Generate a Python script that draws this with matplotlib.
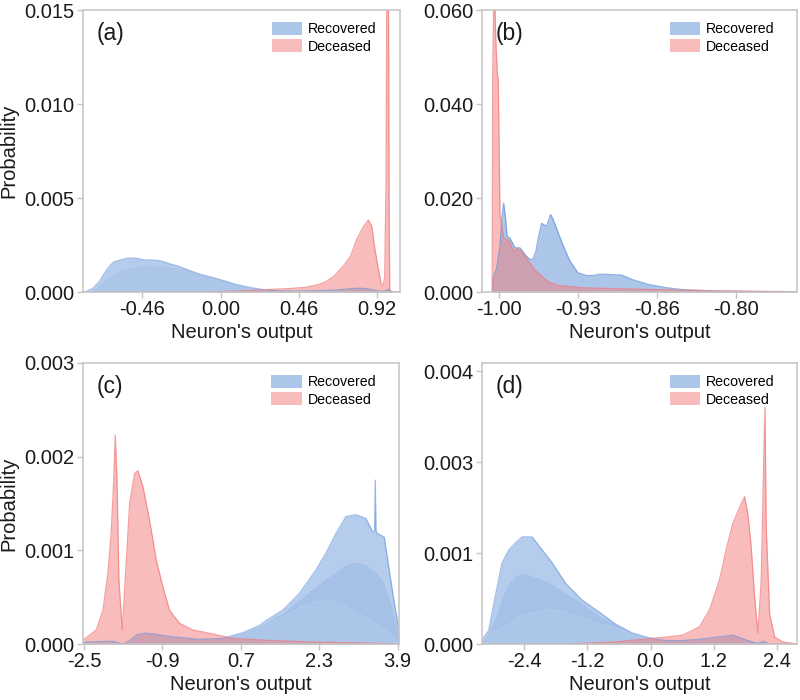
import matplotlib
matplotlib.use('Agg')
import matplotlib.pyplot as plt
from matplotlib.patches import Patch

plt.rcParams['font.family'] = ['Liberation Sans', 'DejaVu Sans']

# ---------------- Panel (a) ----------------
a_blue_x = [-0.81, -0.79, -0.75, -0.71, -0.67, -0.63, -0.59, -0.55, -0.50, -0.45, -0.40,
            -0.35, -0.30, -0.25, -0.20, -0.12, -0.05, 0.02, 0.08, 0.14, 0.20, 0.27, 0.35,
            0.45, 0.57, 0.66, 0.72, 0.77, 0.82, 0.86, 0.90, 0.94, 0.97, 0.99, 1.01, 1.056]
a_blue_top = [0, 0.00003, 0.0002, 0.0006, 0.0012, 0.0016, 0.0017, 0.0018, 0.0018, 0.0017,
              0.0017, 0.00165, 0.0015, 0.00138, 0.0012, 0.00094, 0.00078, 0.0006, 0.00043,
              0.0003, 0.0002, 0.0001, 0.00006, 0.00005, 0.00007, 0.0001, 0.00014, 0.00018,
              0.0002, 0.00018, 0.0001, 0.00003, 0.00008, 0.00014, 0, 0]
a_blue_base = [0, 0.00003, 0.00015, 0.0004, 0.0008, 0.001, 0.0012, 0.0013, 0.0014, 0.00145,
               0.00145, 0.0014, 0.00135, 0.0013, 0.0012, 0.00094, 0.00078, 0.0006, 0.00043,
               0.0003, 0.0002, 0.0001, 0.00006, 0.00005, 0.00007, 0.0001, 0.00014, 0.00018,
               0.0002, 0.00018, 0.0001, 0.00003, 0.00008, 0.00014, 0, 0]
a_red_x = [-0.2, 0.0, 0.15, 0.3, 0.4, 0.5, 0.567, 0.62, 0.665, 0.72, 0.764, 0.80, 0.84,
           0.87, 0.89, 0.906, 0.926, 0.946, 0.957, 0.966, 0.974, 0.978, 0.988, 0.992,
           0.996, 1.056]
a_red_y = [0, 0.00002, 0.00007, 0.00014, 0.00018, 0.00025, 0.00037, 0.00055, 0.00082,
           0.00135, 0.00188, 0.00277, 0.00347, 0.00383, 0.0035, 0.0024, 0.00135, 0.0004,
           0.00035, 0.0008, 0.006, 0.016, 0.016, 0.004, 0, 0]

# ---------------- Panel (b) ----------------
b_blue_x = [-1.0055, -1.005, -1.002, -0.999, -0.9975, -0.996, -0.9945, -0.993, -0.9906,
            -0.9863, -0.982, -0.9778, -0.9735, -0.9709, -0.9685, -0.9667, -0.9635, -0.9592,
            -0.9558, -0.9538, -0.9496, -0.9453, -0.9393, -0.9325, -0.925, -0.9197, -0.9137,
            -0.9026, -0.8951, -0.8855, -0.872, -0.8564, -0.8427, -0.8137, -0.78, -0.745]
b_blue_y = [0, 0.003, 0.005, 0.010, 0.016, 0.0189, 0.016, 0.0118, 0.0115, 0.0094, 0.0094,
            0.008, 0.0069, 0.007, 0.0085, 0.0111, 0.0146, 0.014, 0.0165, 0.0155, 0.0128,
            0.010, 0.0066, 0.0041, 0.0035, 0.0035, 0.0038, 0.0037, 0.0036, 0.0026, 0.0016,
            0.0009, 0.0005, 0.0002, 0.0001, 0.00005]
b_red_x = [-1.0058, -1.0054, -1.0045, -1.0035, -1.0026, -1.0015, -1.0006, -0.9998, -0.9991,
           -0.9983, -0.996, -0.9917, -0.9874, -0.9846, -0.9803, -0.9746, -0.9692, -0.9632,
           -0.9575, -0.949, -0.929, -0.90, -0.872, -0.8154, -0.7581, -0.745]
b_red_y = [0, 0.045, 0.061, 0.061, 0.053, 0.047, 0.045, 0.03, 0.016, 0.0155, 0.0115, 0.011,
           0.0086, 0.0093, 0.0086, 0.0064, 0.0047, 0.0033, 0.0021, 0.0014, 0.0009, 0.0007,
           0.00055, 0.00025, 0.0001, 0.00005]

# ---------------- Panel (c) ----------------
c_red_x = [-2.52, -2.249, -2.113, -2.011, -1.944, -1.895, -1.862, -1.827, -1.787, -1.719,
           -1.65, -1.568, -1.467, -1.399, -1.297, -1.161, -1.026, -0.89, -0.753, -0.549,
           -0.278, 0.19, 0.537, 1.21, 2.23, 3.33, 3.93]
c_red_y = [0.00004, 0.00015, 0.00036, 0.00076, 0.0012, 0.00171, 0.00223, 0.00175, 0.00068,
           0.00015, 0.00076, 0.0015, 0.00182, 0.00185, 0.00168, 0.00132, 0.0009, 0.00061,
           0.00036, 0.00022, 0.00015, 0.0001, 0.00006, 0.00004, 0.00002, 0.00001, 0]
c_blue_x = [-2.52, -1.91, -1.705, -1.56, -1.42, -1.26, -1.11, -0.75, -0.136, 0.33, 0.74,
            1.09, 1.216, 1.556, 1.897, 2.235, 2.439, 2.643, 2.847, 3.05, 3.254, 3.39,
            3.43, 3.446, 3.46, 3.493, 3.629, 3.73, 3.833, 3.93]
c_blue_base = [0.00002, 0.00003, 0, 0.00004, 0.0001, 0.000115, 0.00011, 0.00008, 0.00005,
               0.00006, 0.00012, 0.0002, 0.00023, 0.00029, 0.0004, 0.00046, 0.00047,
               0.00045, 0.0004, 0.00035, 0.00028, 0.00024, 0.00023, 0.00022, 0.00022,
               0.0002, 0.00016, 0.00011, 0.00006, 0.00002]
c_blue_mid = [0.00002, 0.00003, 0, 0.00004, 0.0001, 0.000115, 0.00011, 0.00008, 0.00005,
              0.00006, 0.00012, 0.0002, 0.00024, 0.00033, 0.00048, 0.00062, 0.0007,
              0.00078, 0.00085, 0.00088, 0.00085, 0.0008, 0.00078, 0.00078, 0.00077,
              0.00075, 0.00065, 0.0005, 0.0003, 0.0001]
c_blue_top = [0.00002, 0.00003, 0, 0.00004, 0.0001, 0.000115, 0.00011, 0.00008, 0.00005,
              0.00006, 0.00012, 0.0002, 0.00025, 0.00036, 0.00054, 0.00079, 0.00097,
              0.00118, 0.00136, 0.00138, 0.00134, 0.0012, 0.0012, 0.00175, 0.0012, 0.00118,
              0.00114, 0.00079, 0.00044, 0.00015]

# ---------------- Panel (d) ----------------
d_blue_x = [-3.2, -3.072, -2.947, -2.819, -2.691, -2.566, -2.438, -2.248, -2.057, -1.867,
            -1.613, -1.295, -0.977, -0.661, -0.343, -0.025, 0.286, 0.61, 0.928, 1.238,
            1.562, 1.81, 1.943, 2.04, 2.15, 2.25, 2.78]
d_blue_base = [0.00006, 0.00015, 0.0002, 0.00025, 0.0003, 0.00038, 0.00043, 0.00047,
               0.0005, 0.00052, 0.00047, 0.0004, 0.0003, 0.00025, 0.00016, 0.00009,
               0.00005, 0.00005, 0.00007, 0.0001, 0.00013, 0.00006, 0.00003, 0.00001,
               0.00004, 0, 0]
d_blue_mid = [0.00006, 0.00018, 0.0004, 0.0007, 0.0009, 0.001, 0.00105, 0.001, 0.00095,
              0.00088, 0.00075, 0.0006, 0.00042, 0.00029, 0.00016, 0.00009, 0.00005,
              0.00005, 0.00007, 0.0001, 0.00013, 0.00006, 0.00003, 0.00001, 0.00004, 0, 0]
d_blue_top = [0.00006, 0.0002, 0.0007, 0.00119, 0.00138, 0.00148, 0.00157, 0.00157,
              0.00138, 0.00119, 0.00089, 0.00064, 0.00047, 0.00029, 0.00016, 0.00009,
              0.00005, 0.00005, 0.00007, 0.0001, 0.00013, 0.00006, 0.00003, 0.00001,
              0.00004, 0, 0]
d_red_x = [-1.62, -0.667, -0.025, 0.286, 0.61, 0.928, 1.118, 1.309, 1.434, 1.562, 1.69,
           1.785, 1.848, 1.91, 1.975, 2.038, 2.101, 2.152, 2.171, 2.196, 2.261, 2.356,
           2.514, 2.78]
d_red_y = [0, 0.00003, 0.00008, 0.0001, 0.00013, 0.00025, 0.0005, 0.00094, 0.00138,
           0.00177, 0.002, 0.00216, 0.0019, 0.00143, 0.00069, 0.00016, 0.00094, 0.0028,
           0.00348, 0.0017, 0.00044, 0.0001, 0.00003, 0]

# ---------------- Axis settings ----------------
a_xticks = [-0.46, 0.0, 0.46, 0.92]
a_xlabels = ['-0.46', '0.00', '0.46', '0.92']
a_yticks = [0.0, 0.005, 0.010, 0.015]
a_ylabels = ['0.000', '0.005', '0.010', '0.015']
b_xticks = [-1.0, -0.9325, -0.865, -0.7975]
b_xlabels = ['-1.00', '-0.93', '-0.86', '-0.80']
b_yticks = [0.0, 0.02, 0.04, 0.06]
b_ylabels = ['0.000', '0.020', '0.040', '0.060']
c_xticks = [-2.5, -0.9, 0.7, 2.3, 3.9]
c_xlabels = ['-2.5', '-0.9', '0.7', '2.3', '3.9']
c_yticks = [0.0, 0.001, 0.002, 0.003]
c_ylabels = ['0.000', '0.001', '0.002', '0.003']
d_xticks = [-2.4, -1.2, 0.0, 1.2, 2.4]
d_xlabels = ['-2.4', '-1.2', '0.0', '1.2', '2.4']
d_yticks = [0.0, 0.0013333, 0.0026667, 0.004]
d_ylabels = ['0.000', '0.001', '0.003', '0.004']

BLUE = '#5b8fd6'
BLUE_EDGE = '#5f92d8'
RED = '#f27b7b'
RED_EDGE = '#f27878'
GRAY = '#c4c4c4'
FS = 14.5

fig = plt.figure(figsize=(8, 7), dpi=100)
W, H = 800.0, 700.0


def make_ax(l, r, t, b):
    return fig.add_axes([l / W, 1 - b / H, (r - l) / W, (b - t) / H])


axA = make_ax(83, 400, 10, 292)
axB = make_ax(482, 797, 10, 292)
axC = make_ax(83, 399, 363, 644)
axD = make_ax(482, 797, 363, 644)


def draw_blue(ax, x, base, mid=None, top=None):
    ax.fill_between(x, 0, base, color=BLUE, alpha=0.5, lw=0)
    if mid is not None:
        ax.fill_between(x, base, mid, color=BLUE, alpha=0.55, lw=0)
    if top is not None:
        lower = mid if mid is not None else base
        ax.fill_between(x, lower, top, color=BLUE, alpha=0.45, lw=0)
        ax.plot(x, top, color=BLUE_EDGE, alpha=0.6, lw=0.9)
    else:
        ax.plot(x, base, color=BLUE_EDGE, alpha=0.7, lw=0.9)


def draw_red(ax, x, y):
    ax.fill_between(x, 0, y, color=RED, alpha=0.5, lw=0)
    ax.plot(x, y, color=RED_EDGE, alpha=0.7, lw=0.9)


draw_blue(axA, a_blue_x, a_blue_base, None, a_blue_top)
draw_red(axA, a_red_x, a_red_y)
draw_blue(axB, b_blue_x, b_blue_y)
draw_red(axB, b_red_x, b_red_y)
draw_blue(axC, c_blue_x, c_blue_base, c_blue_mid, c_blue_top)
draw_red(axC, c_red_x, c_red_y)
draw_blue(axD, d_blue_x, d_blue_base, d_blue_mid, d_blue_top)
draw_red(axD, d_red_x, d_red_y)

settings = [
    (axA, (-0.81, 1.056), (0, 0.015), a_xticks, a_xlabels, a_yticks, a_ylabels, '(a)', True),
    (axB, (-1.0145, -0.745), (0, 0.06), b_xticks, b_xlabels, b_yticks, b_ylabels, '(b)', False),
    (axC, (-2.52, 3.93), (0, 0.003), c_xticks, c_xlabels, c_yticks, c_ylabels, '(c)', True),
    (axD, (-3.2, 2.78), (0, 0.00412), d_xticks, d_xlabels, d_yticks, d_ylabels, '(d)', False),
]

for ax, xl, yl, xt, xtl, yt, ytl, tag, ylab in settings:
    ax.set_xlim(*xl)
    ax.set_ylim(*yl)
    ax.set_xticks(xt)
    ax.set_xticklabels(xtl)
    ax.set_yticks(yt)
    ax.set_yticklabels(ytl)
    for s in ax.spines.values():
        s.set_color(GRAY)
        s.set_linewidth(1.1)
    ax.tick_params(axis='both', direction='out', length=4, width=1.0, color=GRAY,
                   labelsize=FS, labelcolor='#1a1a1a', pad=2)
    ax.set_xlabel("Neuron's output", fontsize=FS, color='#1a1a1a', labelpad=3)
    if ylab:
        ax.set_ylabel('Probability', fontsize=FS, color='#1a1a1a', labelpad=2)
    ax.text(0.044, 0.918, tag, transform=ax.transAxes, fontsize=16.5, va='center',
            ha='left', color='#1a1a1a')
    handles = [Patch(facecolor=BLUE, alpha=0.5, edgecolor='none', label='Recovered'),
               Patch(facecolor=RED, alpha=0.5, edgecolor='none', label='Deceased')]
    ax.legend(handles=handles, loc='upper left', bbox_to_anchor=(0.596, 0.957),
              frameon=False, fontsize=10.2, handlelength=2.15, handleheight=1.0,
              handletextpad=0.4, labelspacing=0.22, borderpad=0, borderaxespad=0)

axA.yaxis.set_label_coords(-0.205, 0.5)
axC.yaxis.set_label_coords(-0.205, 0.5)

fig.savefig('out.png', dpi=100)
